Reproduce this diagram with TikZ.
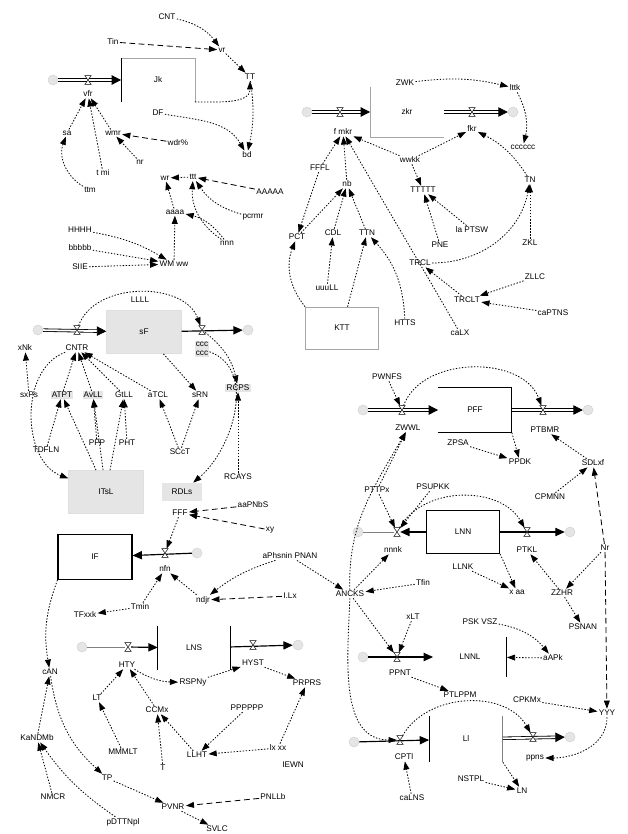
\documentclass[tikz,border=0pt]{standalone}
\usepackage{fontspec}
\setmainfont{Liberation Sans}
\usepackage{tikz}
\usetikzlibrary{arrows.meta}

\begin{document}
\begin{tikzpicture}[x=0.03cm,y=-0.03cm,
	lbl/.style={font=\fontsize{7}{7.5}\selectfont, inner sep=1pt},
	glbl/.style={lbl, fill=gray!20},
	stock/.style={draw=gray!70, font=\fontsize{7}{7.5}\selectfont, minimum width=2.2cm, minimum height=1.3cm},
	bstock/.style={stock, draw=black, line width=0.9pt},
	gstock/.style={stock, draw=gray!25, fill=gray!20},
	lvl/.style={stock, draw=none},
	cloud/.style={circle, fill=gray!20, draw=gray!35, minimum size=0.3cm, inner sep=0pt},
	valve/.style={minimum width=5pt, minimum height=7pt, inner sep=0pt},
	pipe/.style={double, line width=0.7pt, double distance=1.5pt, -{Triangle[length=8pt,width=8pt]}},
	flow/.style={line width=1pt, -{Triangle[length=8pt,width=7pt]}},
	link/.style={line width=0.7pt, dash pattern=on 1.2pt off 1.4pt, -{Triangle[length=7pt,width=5pt]}},
	slink/.style={link, dash pattern=on 5pt off 3pt}]
	\path[use as bounding box, fill=white] (0,0) rectangle (628,834);

	% top left
	\node[lvl] (sA) at (158,80) {Jk};
	\node[cloud] (cA) at (53,80) {};
	\node[valve] (vA) at (88,80) {};
	\node[lbl] (vAl) at (88,94) {vfr};
	\node[lbl] (dfA) at (158,113) {DF};
	\node[lbl] (tinA) at (113,42) {Tin};
	\node[lbl] (cntA) at (167,17) {CNT};
	\node[lbl] (trA) at (222,50) {vr};
	\node[lbl] (ttA) at (250,77) {TT};
	\node[lbl] (bdA) at (247,155) {bd};
	\node[lbl] (saA) at (67,133) {sa};
	\node[lbl] (tttA) at (90,190) {ttm};
	\node[lbl] (wmA) at (113,133) {wmr};
	\node[lbl] (ddA) at (178,143) {wdr\%};
	\node[lbl] (tmA) at (103,173) {t mi};
	\node[lbl] (xxA) at (140,162) {nr};
	\node[lbl] (ndA) at (165,178) {wr};
	\node[lbl] (ttmA) at (193,177) {ttt};
	\node[lbl] (ccA) at (270,192) {AAAAA};
	\node[lbl] (pcA) at (253,217) {pcrmr};
	\node[lbl] (nnA) at (227,243) {nnn};
	\node[lbl] (aaA) at (175,212) {aaaa};
	\node[lbl] (wwA) at (174,264) {WM ww};
	\node[lbl] (h1A) at (80,230) {HHHH};
	\node[lbl] (b1A) at (80,248) {bbbbb};
	\node[lbl] (s1A) at (80,267) {SIIE};
	\draw[gray!70] (sA.north west) -- (sA.north east) -- (sA.south east);
	\draw[line width=1pt] (sA.north west) -- (sA.south west);
	\draw[pipe] (cA) -- (sA);
	\draw[slink] (tinA) -- (trA);
	\draw[link] (cntA) to[bend left=20] (trA);
	\draw[link] (trA) -- (ttA);
	\draw[link] (sA.south east) to[out=0,in=-90] (ttA);
	\draw[link] (ttA) to[bend left=10] (bdA);
	\draw[link] (dfA) to[out=-10,in=120] (bdA);
	\draw[link] (saA) -- (vAl);
	\draw[link] (wmA) -- (vAl);
	\draw[link] (tmA) -- (vAl);
	\draw[link] (tttA) to[bend left=40] (saA);
	\draw[slink] (ddA) -- (wmA);
	\draw[link] (xxA) -- (wmA);
	\draw[link] (ttmA) -- (ndA);
	\draw[slink] (ccA) -- (ttmA);
	\draw[link] (pcA) to[bend left=20] (ttmA);
	\draw[link] (nnA) to[bend left=30] (ttmA);
	\draw[link] (aaA) -- (ndA);
	\draw[link] (wwA) -- (aaA);
	\draw[link] (nnA) to[bend right=20] (aaA);
	\draw[link] (h1A) to[bend left=10] (wwA);
	\draw[link] (b1A) -- (wwA);
	\draw[link] (s1A) -- (wwA);

	% top right
	\node[lvl, minimum height=1.5cm] (sB) at (407,112) {zkr};
	\node[cloud] (cB1) at (307,112) {};
	\node[valve] (vB1) at (340,112) {};
	\node[lbl] (vB1l) at (343,132) {f mkr};
	\node[valve] (vB2) at (472,112) {};
	\node[cloud] (cB2) at (513,112) {};
	\node[lbl] (vB2l) at (472,129) {fkr};
	\node[lbl] (zwB) at (405,83) {ZWK};
	\node[lbl] (ltB) at (515,88) {lttk};
	\node[lbl] (ccB) at (523,147) {cccccc};
	\node[lbl] (wkB) at (410,160) {wwkk};
	\node[lbl] (tkB) at (423,190) {TTTTT};
	\node[lbl] (laB) at (472,230) {la PTSW};
	\node[lbl] (pnB) at (440,245) {PNE};
	\node[lbl] (tnB) at (530,180) {TN};
	\node[lbl] (zkB) at (530,243) {ZKL};
	\node[lbl] (trB) at (420,263) {TRCL};
	\node[lbl] (ffB) at (320,168) {FFFL};
	\node[lbl] (nbB) at (347,184) {nb};
	\node[lbl] (p1B) at (297,237) {PCT};
	\node[lbl] (p2B) at (333,233) {CDL};
	\node[lbl] (p3B) at (367,233) {TTN};
	\node[lbl] (uuB) at (327,288) {uuuLL};
	\node[stock, minimum height=1.26cm] (sCB) at (342,328) {KTT};
	\node[lbl] (htB) at (405,323) {HTTS};
	\node[lbl] (lxB) at (460,333) {caLX};
	\node[lbl] (tcB) at (467,300) {TRCLT};
	\node[lbl] (zlB) at (535,277) {ZLLC};
	\node[lbl] (cpB) at (553,313) {caPTNS};
	\draw[gray!70] (sB.north west) -- (sB.south west) -- (sB.south east);
	\draw[pipe] (cB1) -- (sB);
	\draw[pipe] (sB) -- (cB2);
	\draw[link] (zwB) to[bend left=10] (ltB);
	\draw[link] (ltB) to[bend left=20] (ccB);
	\draw[link] (wkB) -- (vB1l);
	\draw[link] (wkB) -- (vB2l);
	\draw[link] (wkB) -- (tkB);
	\draw[link] (laB) -- (tkB);
	\draw[link] (pnB) -- (tkB);
	\draw[link] (tnB) to[bend right=15] (vB2l);
	\draw[link] (zkB) -- (tnB);
	\draw[link] (trB) to[out=0,in=-100] (tnB);
	\draw[link] (nbB) -- (vB1l);
	\draw[link] (ffB) -- (vB1l);
	\draw[link] (ffB) -- (p1B);
	\draw[link] (p1B) -- (nbB);
	\draw[link] (p2B) -- (nbB);
	\draw[link] (p3B) -- (nbB);
	\draw[link] (uuB) -- (p2B);
	\draw[link] (sCB.north west) to[bend left=30] (p1B);
	\draw[link] (sCB) -- (p3B);
	\draw[link] (htB) to[bend right=20] (p3B);
	\draw[link] (lxB) to[out=120,in=-60] (vB1l);
	\draw[link] (tcB) -- (trB);
	\draw[link] (zlB) -- (tcB);
	\draw[link] (cpB) -- (tcB);

	% middle left
	\node[gstock, minimum width=2.25cm] (sC) at (144,332) {sF};
	\node[cloud] (cC1) at (38,330) {};
	\node[valve] (vC1) at (77,330) {};
	\node[lbl] (vC1l) at (77,348) {CNTR};
	\node[valve] (vC2) at (202,330) {};
	\node[cloud] (cC2) at (248,330) {};
	\node[glbl, align=center] (vC2l) at (202,349) {ccc\\ccc};
	\node[lbl] (arC) at (140,300) {LLLL};
	\node[lbl] (xnC) at (25,348) {xNk};
	\node[lbl] (r1C) at (29,395) {sxPs};
	\node[glbl] (r2C) at (62,395) {ATPT};
	\node[glbl] (r3C) at (93,395) {AvLL};
	\node[lbl] (r4C) at (124,395) {GtLL};
	\node[lbl] (r5C) at (158,395) {aTCL};
	\node[lbl] (r6C) at (200,395) {sRN};
	\node[glbl] (r7C) at (238,388) {RCPS};
	\node[lbl] (b1C) at (46,450) {TDFLN};
	\node[lbl] (b2C) at (97,443) {PPP};
	\node[lbl] (b3C) at (127,443) {PHT};
	\node[lbl] (b4C) at (180,452) {SCcT};
	\node[gstock, minimum width=2.25cm] (sC3) at (106,492) {ITsL};
	\node[glbl, minimum width=1.2cm, minimum height=0.55cm] (gnC) at (182,492) {RDLs};
	\node[lbl] (rcC) at (238,477) {RCAYS};
	\draw[pipe] (cC1) -- (sC);
	\draw[flow] (sC) -- (cC2);
	\draw[link] (vC1) to[out=70,in=110] (vC2);
	\draw[link] (r1C) -- (xnC);
	\draw[link] (r2C) -- (vC1l);
	\draw[link] (r3C) -- (vC1l);
	\draw[link] (r4C) -- (vC1l);
	\draw[link] (r5C) -- (vC1l);
	\draw[link] (sC) -- (r6C);
	\draw[link] (vC2) to[bend left=20] (r7C);
	\draw[link] (rcC) -- (r7C);
	\draw[link] (b1C) -- (r2C);
	\draw[link] (sC3) -- (r2C);
	\draw[link] (b2C) -- (r3C);
	\draw[link] (sC3) -- (r3C);
	\draw[link] (b3C) -- (r4C);
	\draw[link] (sC3) -- (r4C);
	\draw[link] (b4C) -- (r5C);
	\draw[link] (b4C) -- (r6C);
	\draw[link] (vC1l) to[out=200,in=160] (sC3);
	\draw[link] (vC2l) to[out=-20,in=40] (gnC);

	% bottom left
	\node[bstock, minimum width=2.22cm, minimum height=1.35cm] (sD) at (95,557) {IF};
	\node[valve] (vD) at (165,553) {};
	\node[cloud] (cD) at (197,553) {};
	\node[lbl] (vDl) at (165,569) {nfn};
	\node[lbl] (ffD) at (180,513) {FFF};
	\node[lbl] (paD) at (253,505) {aaPNbS};
	\node[lbl] (xyD) at (270,530) {xy};
	\node[lbl] (tmD) at (140,607) {Tmin};
	\node[lbl] (tfD) at (85,615) {TFxxk};
	\node[lbl] (ndD) at (203,600) {ndjr};
	\node[lbl] (ilD) at (290,596) {I.Lx};
	\node[lbl] (cen) at (350,594) {ANCKS};
	\node[lbl] (ltD) at (290,556) {aPhsnin PNAN};
	\node[lvl, minimum width=2.16cm] (sE) at (194,648) {LNS};
	\node[cloud] (cE1) at (82,647) {};
	\node[valve] (vE1) at (128,647) {};
	\node[lbl] (vE1l) at (127,665) {HTY};
	\node[valve] (vE2) at (253,645) {};
	\node[cloud] (cE2) at (298,645) {};
	\node[lbl] (vE2l) at (253,663) {HYST};
	\node[lbl] (rsE) at (193,682) {RSPNy};
	\node[lbl] (prE) at (307,683) {PRPRS};
	\node[lbl] (ltE) at (97,698) {LT};
	\node[lbl] (ccE) at (157,710) {CCMx};
	\node[lbl] (ppE) at (247,708) {PPPPPP};
	\node[lbl] (mmE) at (123,752) {MMMLT};
	\node[lbl] (lhE) at (197,755) {LLHT};
	\node[lbl] (xtE) at (278,748) {lx xx};
	\node[lbl] (ieE) at (293,765) {IEWN};
	\node[lbl] (tE) at (163,768) {T};
	\node[lbl] (anD) at (50,672) {cAN};
	\node[lbl] (kmD) at (37,738) {KaNDMb};
	\node[lbl] (nmD) at (53,797) {NMCR};
	\node[lbl] (tpD) at (107,778) {TP};
	\node[lbl] (pvD) at (173,807) {PVNR};
	\node[lbl] (pyD) at (273,797) {PNLLb};
	\node[lbl] (ptD) at (123,822) {pDTTNpl};
	\node[lbl] (svD) at (217,829) {SVLC};
	\draw[line width=1pt] (sE.north west) -- (sE.south west);
	\draw[line width=1pt] (sE.north east) -- (sE.south east);
	\draw[flow] (cD) -- (sD);
	\draw[link] (ffD) -- (vD);
	\draw[slink] (paD) -- (ffD);
	\draw[slink] (xyD) -- (ffD);
	\draw[link] (ndD) -- (vDl);
	\draw[link] (tmD) -- (vDl);
	\draw[link] (tmD) -- (tfD);
	\draw[slink] (ilD) -- (ndD);
	\draw[link] (ltD) to[bend right=10] (ndD);
	\draw[link] (ltD) -- (cen);
	\draw[gray, line width=0.6pt] (cE1) -- (vE1);
	\draw[flow] (vE1) -- (sE);
	\draw[flow] (sE) -- (cE2);
	\draw[link] (rsE) -- (vE2l);
	\draw[link] (vE2l) -- (prE);
	\draw[link] (vE1l) to[bend right=15] (rsE);
	\draw[link] (ltE) -- (vE1l);
	\draw[link] (ccE) -- (vE1l);
	\draw[link] (ppE) -- (lhE);
	\draw[link] (xtE) -- (lhE);
	\draw[link] (xtE) -- (prE);
	\draw[link] (mmE) -- (ltE);
	\draw[link] (lhE) -- (ccE);
	\draw[link] (tE) -- (ccE);
	\draw[link] (sD.south west) to[bend right=15] (anD);
	\draw[link] (kmD) -- (anD);
	\draw[link] (nmD) -- (kmD);
	\draw[link] (ptD) to[bend left=10] (kmD);
	\draw[link] (anD) to[bend right=20] (tpD);
	\draw[link] (tpD) -- (pvD);
	\draw[slink] (pyD) -- (pvD);
	\draw[link] (pvD) -- (svD);

	% right side
	\node[lvl, minimum height=1.35cm] (sF) at (475,410) {PFF};
	\node[cloud] (cF1) at (363,410) {};
	\node[valve] (vF1) at (402,410) {};
	\node[lbl] (vF1l) at (408,428) {ZWWL};
	\node[valve] (vF2) at (543,410) {};
	\node[cloud] (cF2) at (588,410) {};
	\node[lbl] (vF2l) at (545,430) {PTBMR};
	\node[lbl] (pwF) at (387,377) {PWNFS};
	\node[lbl] (zpF) at (458,443) {ZPSA};
	\node[lbl] (pdF) at (520,462) {PPDK};
	\node[lbl] (sdF) at (593,463) {SDLxf};
	\node[lbl] (cmF) at (550,497) {CPMNN};
	\node[lbl] (nrF) at (605,548) {Nr};
	\node[bstock, minimum height=1.29cm] (sG) at (463,532) {LNN};
	\node[cloud] (cG1) at (358,532) {};
	\node[valve] (vG1) at (397,532) {};
	\node[lbl] (vG1l) at (393,550) {nnnk};
	\node[valve] (vG2) at (527,532) {};
	\node[cloud] (cG2) at (570,532) {};
	\node[lbl] (vG2l) at (527,550) {PTKL};
	\node[lbl] (pxG) at (377,490) {PTTPx};
	\node[lbl] (psG) at (433,487) {PSUPKK};
	\node[lbl] (lkG) at (463,567) {LLNK};
	\node[lbl] (aaG) at (517,592) {x aa};
	\node[lbl] (zhG) at (562,593) {ZZHR};
	\node[lbl] (pnG) at (583,627) {PSNAN};
	\node[lbl] (tfE) at (423,583) {Tfin};
	\node[lbl] (xlE) at (413,617) {xLT};
	\node[lbl] (pkH) at (480,622) {PSK VSZ};
	\node[lvl, minimum height=1.2cm] (sH) at (470,657) {LNNL};
	\node[cloud] (cH1) at (363,657) {};
	\node[valve] (vH1) at (397,657) {};
	\node[lbl] (vH1l) at (400,673) {PPNT};
	\node[lbl] (axH) at (553,658) {aAPk};
	\node[lbl] (ptH) at (460,695) {PTLPPM};
	\node[lbl] (cpH) at (527,700) {CPKMx};
	\node[lbl] (yyH) at (607,713) {YYY};
	\node[lvl, minimum height=1.38cm] (sI) at (466,739) {Ll};
	\node[cloud] (cI1) at (354,742) {};
	\node[valve] (vI1) at (400,740) {};
	\node[lbl] (vI1l) at (404,757) {CPTl};
	\node[valve] (vI2) at (533,737) {};
	\node[cloud] (cI2) at (570,737) {};
	\node[lbl] (vI2l) at (535,758) {ppns};
	\node[lbl] (cbI) at (412,798) {caLNS};
	\node[lbl] (nsI) at (471,779) {NSTPL};
	\node[lbl] (lnI) at (522,791) {LN};
	\draw[line width=0.9pt] (sF.north west) -- (sF.north east) -- (sF.south east) -- (sF.south west);
	\draw[line width=1pt] (sH.north east) -- (sH.south east);
	\draw[line width=1pt] (sI.north west) -- (sI.south west);
	\draw[gray, line width=0.8pt] (sI.north east) -- (sI.south east);
	\draw[pipe] (cF1) -- (sF);
	\draw[pipe] (sF) -- (cF2);
	\draw[link] (vF1) to[out=70,in=110] (vF2);
	\draw[link] (pwF) -- (vF1);
	\draw[link] (zpF) -- (pdF);
	\draw[link] (sF.south east) -- (pdF);
	\draw[link] (sdF) -- (vF2l);
	\draw[link] (cmF) -- (sdF);
	\draw[slink] (nrF) -- (sdF);
	\draw[slink] (nrF) -- (yyH);
	\draw[link] (nrF) -- (zhG);
	\draw[flow] (sG) -- (vG1);
	\draw[gray, line width=0.6pt] (vG1) -- (cG1);
	\draw[flow] (sG) -- (cG2);
	\draw[link] (vG1) to[out=60,in=120] (vG2);
	\draw[link] (pxG) -- (vG1);
	\draw[link] (psG) -- (vG1);
	\draw[link] (pxG) -- (vF1l);
	\draw[link] (lkG) -- (aaG);
	\draw[link] (sG.south east) -- (aaG);
	\draw[link] (zhG) -- (vG2l);
	\draw[link] (zhG) -- (pnG);
	\draw[link] (tfE) -- (cen);
	\draw[link] (cen) -- (vG1l);
	\draw[link] (cen) to[out=92,in=-120] (vF1l);
	\draw[link] (cen) to[out=-92,in=180] (vI1);
	\draw[link] (cen) -- (vH1);
	\draw[link] (xlE) -- (vH1);
	\draw[flow] (cH1) -- (sH);
	\draw[link] (pkH) to[bend left=20] (axH);
	\draw[link] (axH) -- (sH);
	\draw[link] (vH1l) -- (ptH);
	\draw[link] (cpH) -- (yyH);
	\draw[flow] (cI1) -- (sI);
	\draw[pipe] (sI) -- (cI2);
	\draw[link] (vI1) to[out=60,in=120] (vI2);
	\draw[link] (yyH) to[out=-90,in=0] (vI2l);
	\draw[link] (cbI) -- (vI1l);
	\draw[link] (nsI) -- (lnI);
	\draw[link] (sI.south east) -- (lnI);

	\foreach \v in {vA,vB1,vB2,vC1,vC2,vD,vE1,vE2,vF1,vF2,vG1,vG2,vH1,vI1,vI2}
	{
		\draw[fill=white] (\v.north west) -- (\v.north east) -- (\v.south west) -- (\v.south east) -- cycle;
	}
\end{tikzpicture}
\end{document}
